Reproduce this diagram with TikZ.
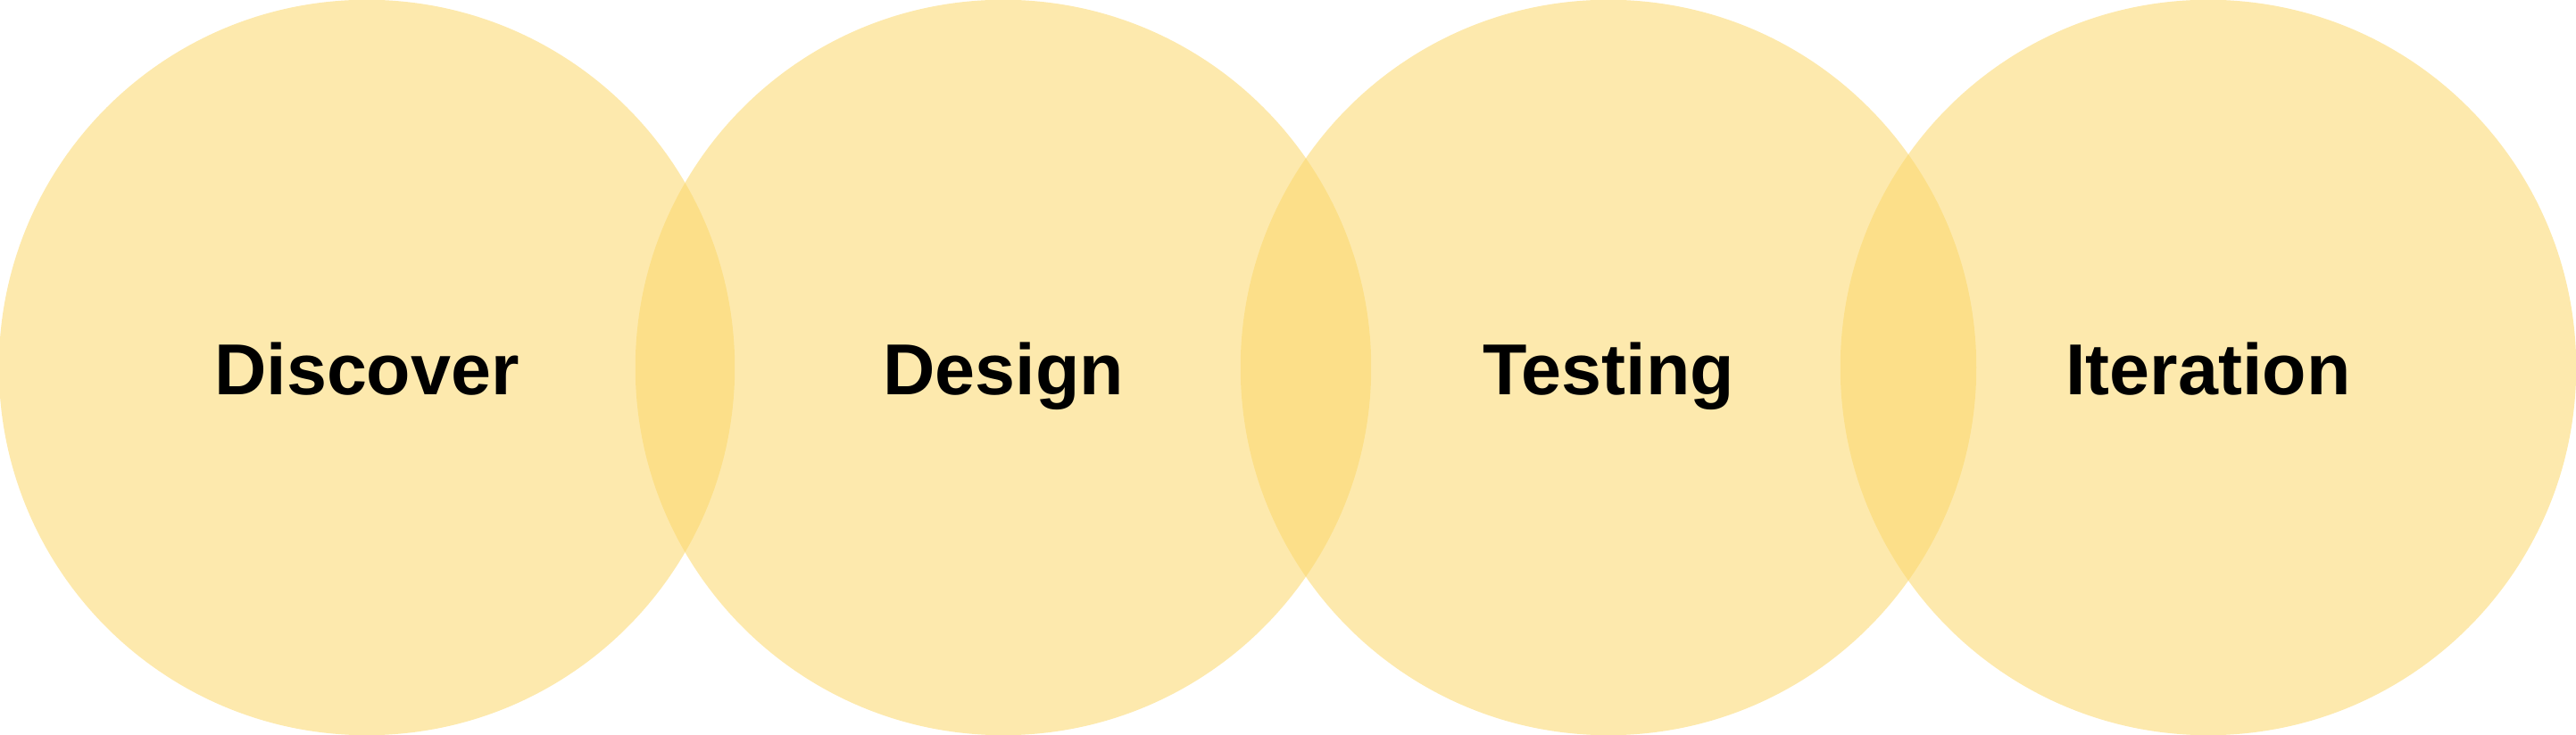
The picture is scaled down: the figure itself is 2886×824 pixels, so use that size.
\documentclass[tikz,border=0pt]{standalone}
\usepackage{fontspec}
\setmainfont{Liberation Sans}
\usepackage{xcolor}
\definecolor{stageyellow}{RGB}{251,216,109}

\begin{document}
\begin{tikzpicture}[x=0.01cm, y=0.01cm,
    stage/.style = {circle, draw=none, fill=stageyellow, fill opacity=0.56, minimum size=8.24cm, inner sep=0pt},
    word/.style = {anchor=base, font=\fontsize{23}{27}\selectfont\bfseries, text=black}]

    \useasboundingbox (0,0) rectangle (2886,824);

    \node[stage] (discover) at (411,412) {};
    \node[stage] (design) at (1124,412) {};
    \node[stage] (testing) at (1802,412) {};
    \node[stage] (iteration) at (2474,412) {};

    \node[word] (discoverlabel) at ([yshift=-0.3cm]discover.center) {Discover};
    \node[word] (designlabel) at ([yshift=-0.3cm]design.center) {Design};
    \node[word] (testinglabel) at ([yshift=-0.3cm]testing.center) {Testing};
    \node[word] (iterationlabel) at ([yshift=-0.3cm]iteration.center) {Iteration};
\end{tikzpicture}
\end{document}
